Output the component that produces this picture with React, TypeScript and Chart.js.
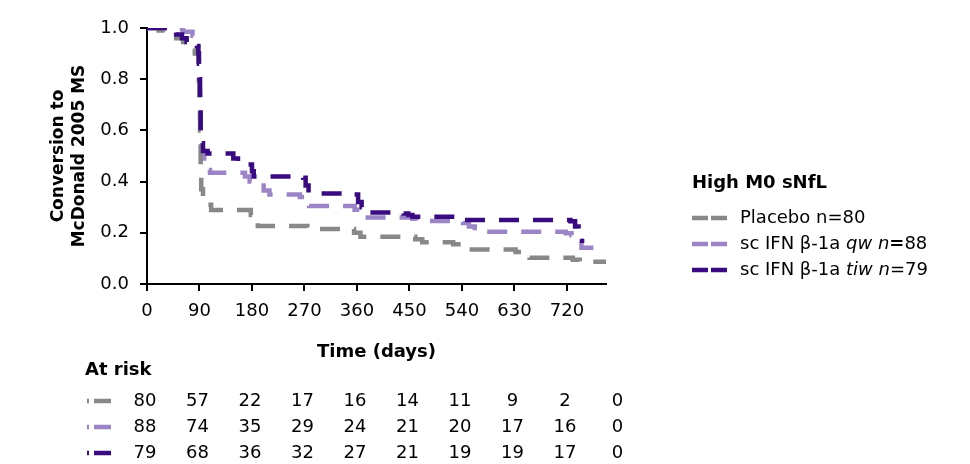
import { useEffect, useRef } from 'react';
import { Chart, registerables } from 'chart.js';

Chart.register(...registerables);

const FONT = '"DejaVu Sans", Verdana, sans-serif';

// Kaplan-Meier curves: day of step, value after the step
const placeboDays = [0, 20, 40, 50, 62, 75, 82, 88, 89, 90, 91, 92, 93, 96, 100, 110, 178, 182, 190, 275, 355, 366, 460, 472, 525, 545, 552, 632, 648, 656, 730, 742, 787];
const placeboSurv = [1.0, 0.99, 0.975, 0.96, 0.945, 0.92, 0.9, 0.87, 0.79, 0.72, 0.6, 0.45, 0.37, 0.34, 0.31, 0.289, 0.27, 0.24, 0.227, 0.215, 0.2, 0.185, 0.175, 0.163, 0.155, 0.145, 0.135, 0.125, 0.11, 0.103, 0.095, 0.087, 0.087];

const qwDays = [0, 30, 62, 78, 86, 88, 89, 90, 91, 92, 95, 98, 102, 108, 168, 176, 183, 200, 210, 262, 270, 278, 356, 364, 372, 455, 462, 542, 552, 562, 570, 718, 728, 738, 745, 787];
const qwSurv = [1.0, 0.995, 0.985, 0.97, 0.95, 0.9, 0.85, 0.75, 0.65, 0.55, 0.52, 0.47, 0.445, 0.435, 0.42, 0.4, 0.385, 0.365, 0.35, 0.34, 0.32, 0.305, 0.29, 0.275, 0.26, 0.255, 0.246, 0.238, 0.225, 0.21, 0.204, 0.198, 0.19, 0.17, 0.142, 0.142];

const tiwDays = [0, 40, 50, 60, 68, 86, 88, 89, 90, 91, 92, 93, 96, 104, 148, 156, 180, 183, 268, 272, 277, 355, 362, 368, 374, 440, 448, 455, 545, 726, 734, 740, 746];
const tiwSurv = [1.0, 0.99, 0.975, 0.96, 0.945, 0.93, 0.9, 0.86, 0.8, 0.7, 0.6, 0.55, 0.52, 0.51, 0.49, 0.467, 0.44, 0.42, 0.415, 0.385, 0.354, 0.35, 0.32, 0.3, 0.279, 0.275, 0.27, 0.263, 0.25, 0.245, 0.225, 0.19, 0.16];

const xTicks = [0, 90, 180, 270, 360, 450, 540, 630, 720];
const yTicks = [0, 0.2, 0.4, 0.6, 0.8, 1.0];
const xMax = 787;

const atRiskDays = [0, 90, 180, 270, 360, 450, 540, 630, 720, 810];
const atRiskPlacebo = [80, 57, 22, 17, 16, 14, 11, 9, 2, 0];
const atRiskQw = [88, 74, 35, 29, 24, 21, 20, 17, 16, 0];
const atRiskTiw = [79, 68, 36, 32, 27, 21, 19, 19, 17, 0];

const seriesNames = ['Placebo n=80', 'sc IFN β-1a qw n=88', 'sc IFN β-1a tiw n=79'];
const legendSegments = [
  [{ text: 'Placebo n=80' }],
  [{ text: 'sc IFN β-1a ' }, { text: 'qw', italic: true }, { text: ' ' }, { text: 'n', italic: true }, { text: '=', bold: true }, { text: '88' }],
  [{ text: 'sc IFN β-1a ' }, { text: 'tiw', italic: true }, { text: ' ' }, { text: 'n', italic: true }, { text: '=79' }],
];
const legendTitle = 'High M0 sNfL';
const yTitle = ['Conversion to', 'McDonald 2005 MS'];
const xTitle = 'Time (days)';
const atRiskTitle = 'At risk';
const colors = ['#888888', '#9c85c6', '#3a0b80'];

const toPoints = (days: number[], vals: number[]) => days.map((d, i) => ({ x: d, y: vals[i] }));

const overlay = {
  id: 'overlay',
  afterDraw(chart: any) {
    const ctx: CanvasRenderingContext2D = chart.ctx;
    const xs = chart.scales.x;
    ctx.save();
    ctx.textBaseline = 'middle';
    ctx.textAlign = 'left';
    ctx.fillStyle = '#000';
    // legend
    ctx.font = `bold 18px ${FONT}`;
    ctx.fillText(legendTitle, 692, 183);
    const legY = [218, 244, 270];
    chart.data.datasets.forEach((ds: any, i: number) => {
      const y = legY[i];
      ctx.strokeStyle = ds.borderColor;
      ctx.lineWidth = 4.5;
      ctx.setLineDash([16, 3]);
      ctx.beginPath();
      ctx.moveTo(692, y);
      ctx.lineTo(727, y);
      ctx.stroke();
      ctx.setLineDash([]);
      let x = 740;
      legendSegments[i].forEach((seg: any) => {
        ctx.font = `${seg.italic ? 'italic ' : ''}${seg.bold ? 'bold ' : ''}18px ${FONT}`;
        ctx.fillStyle = '#000';
        ctx.fillText(seg.text, x, y);
        x += ctx.measureText(seg.text).width;
      });
    });
    // at risk table
    ctx.font = `bold 18px ${FONT}`;
    ctx.fillStyle = '#000';
    ctx.fillText(atRiskTitle, 85, 370);
    const rows = [atRiskPlacebo, atRiskQw, atRiskTiw];
    const rowY = [401, 427, 453];
    rows.forEach((vals, i) => {
      const y = rowY[i];
      ctx.strokeStyle = colors[i];
      ctx.lineWidth = 4.5;
      ctx.setLineDash([2, 5, 17, 60]);
      ctx.beginPath();
      ctx.moveTo(87, y);
      ctx.lineTo(111, y);
      ctx.stroke();
      ctx.setLineDash([]);
      ctx.font = `18px ${FONT}`;
      ctx.fillStyle = '#000';
      ctx.textAlign = 'center';
      vals.forEach((v, j) => {
        ctx.fillText(String(v), xs.getPixelForValue(atRiskDays[j]) - 2, y);
      });
      ctx.textAlign = 'left';
    });
    ctx.restore();
  },
};

export default function App() {
  const ref = useRef<HTMLCanvasElement | null>(null);
  useEffect(() => {
    document.body.style.margin = '0';
    if (!ref.current) return;
    const common = {
      borderWidth: 4.5,
      borderDash: [20, 14],
      borderCapStyle: 'butt',
      pointRadius: 0,
      stepped: 'before',
      fill: false,
    };
    const chart = new Chart(ref.current, {
      type: 'line',
      data: {
        datasets: [
          { ...common, label: seriesNames[0], data: toPoints(placeboDays, placeboSurv), borderColor: colors[0], order: 1 },
          { ...common, label: seriesNames[1], data: toPoints(qwDays, qwSurv), borderColor: colors[1], order: 2 },
          { ...common, label: seriesNames[2], data: toPoints(tiwDays, tiwSurv), borderColor: colors[2], order: 0 },
        ] as any,
      },
      options: {
        animation: false,
        responsive: false,
        devicePixelRatio: 1,
        layout: { padding: { left: 0, top: 28, right: 364, bottom: 0 } },
        plugins: { legend: { display: false }, tooltip: { enabled: false }, title: { display: false } },
        scales: {
          x: {
            type: 'linear',
            min: 0,
            max: xMax,
            afterBuildTicks: (s: any) => { s.ticks = xTicks.map((v) => ({ value: v })); },
            afterFit: (s: any) => { s.height = 180; },
            grid: { display: true, drawOnChartArea: false, drawTicks: true, tickLength: 7, color: '#000', lineWidth: 2 },
            border: { display: true, color: '#000', width: 2 },
            ticks: { color: '#000', font: { family: FONT, size: 18 }, padding: 10, maxRotation: 0, autoSkip: false },
            title: { display: true, text: xTitle, color: '#000', font: { family: FONT, size: 18, weight: 'bold', lineHeight: 1.3 }, padding: { top: 0, bottom: 100 } },
          },
          y: {
            type: 'linear',
            min: 0,
            max: 1,
            afterBuildTicks: (s: any) => { s.ticks = yTicks.map((v) => ({ value: v })); },
            afterFit: (s: any) => { s.width = 147; },
            grid: { display: true, drawOnChartArea: false, drawTicks: true, tickLength: 7, color: '#000', lineWidth: 2 },
            border: { display: true, color: '#000', width: 2 },
            ticks: { color: '#000', font: { family: FONT, size: 18 }, padding: 11, callback: (v: any) => Number(v).toFixed(1) },
            title: { display: true, text: yTitle, color: '#000', font: { family: FONT, size: 17, weight: 'bold', lineHeight: 1.25 }, padding: { top: 48, bottom: 0 } },
          },
        },
      } as any,
      plugins: [overlay],
    });
    return () => chart.destroy();
  }, []);
  return <canvas ref={ref} width={970} height={464} style={{ display: 'block' }} />;
}
